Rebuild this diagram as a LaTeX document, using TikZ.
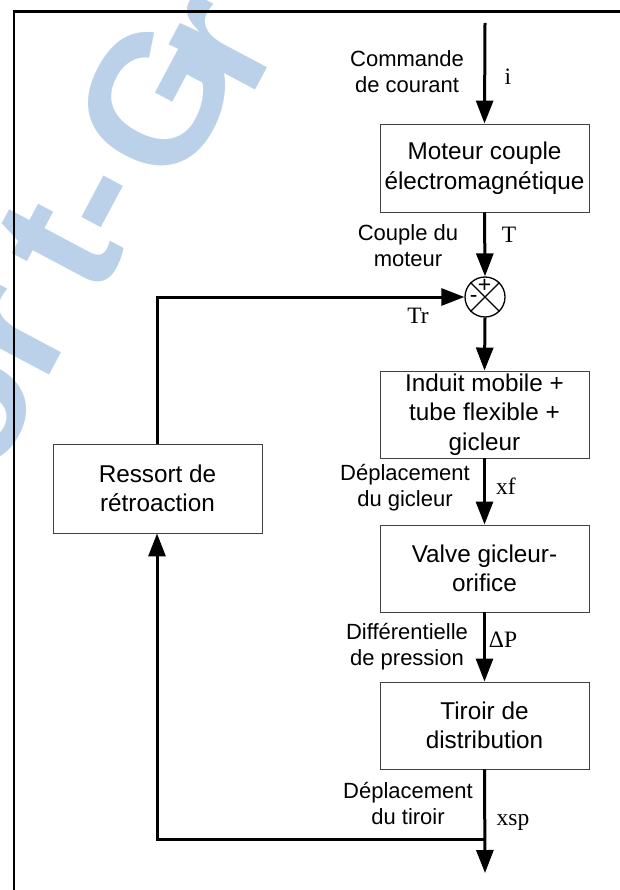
\documentclass[tikz,border=0pt]{standalone}
\usepackage{fontspec}
\setmainfont{Liberation Sans}
\newfontfamily\tms{Liberation Serif}
\usetikzlibrary{arrows.meta}
\definecolor{wm}{RGB}{187,209,233}
\begin{document}
\begin{tikzpicture}[x=1pt,y=-1pt,
  blk/.style={draw=black!75, line width=0.9pt, minimum width=209pt, minimum height=88pt,
    align=center, inner sep=0pt, font=\fontsize{24.3}{29.5}\selectfont},
  lbl/.style={align=center, inner sep=0pt, font=\fontsize{22}{26}\selectfont},
  sig/.style={inner sep=0pt, font=\tms\fontsize{23.5}{26}\selectfont},
  sgn/.style={inner sep=0pt, font=\fontsize{23}{23}\selectfont},
  wml/.style={anchor=base, inner sep=0pt, rotate=62, text=wm,
    font=\bfseries\fontsize{185}{185}\selectfont},
  flow/.style={line width=3pt, -{Triangle[length=23pt,width=17pt]}},
  frame/.style={line width=2.8pt}]
\useasboundingbox (0,0) rectangle (619,890);
% watermark
\begin{scope}
  \clip (0,0) rectangle (619,890);
  \node[wml] (w1) at (18,435) {o};
  \node[wml] (w2) at (60,355) {r};
  \node[wml] (w3) at (112,274) {t};
  \node[wml] (w4) at (145,224) {-};
  \node[wml] (w5) at (212,129) {G};
  \node[wml] (w6) at (266,70) {r};
  \node[wml] (w7) at (330,-42) {a};
\end{scope}
% frame
\draw[frame] (14,895) -- (14,11.5) -- (625,11.5);
% blocks
\node[blk] (b1) at (484.5,168) {Moteur couple\\électromagnétique};
\node[blk, minimum height=87pt] (b2) at (484.5,414.5) {Induit mobile +\\tube flexible +\\gicleur};
\node[blk, minimum height=87pt] (b3) at (484.5,568.5) {Valve gicleur-\\orifice};
\node[blk, minimum height=87pt] (b4) at (484.5,725.5) {Tiroir de\\distribution};
\node[blk, minimum height=89pt] (b5) at (157.5,488.5) {Ressort de\\rétroaction};
% summing junction
\node[draw, circle, line width=1.3pt, minimum size=40pt, inner sep=0pt] (s) at (485,297) {};
\draw[line width=1.3pt] (s.north west) -- (s.south east) (s.north east) -- (s.south west);
\node[sgn] (plus) at (484.5,285.5) {+};
\node[sgn] (minus) at (473.7,298.5) {-};
% coordinates
\coordinate (in) at (485,23);
\coordinate (out) at (485,873);
\coordinate (br) at (485,839);
\coordinate (bl) at (157,839);
\coordinate (tl) at (157,297);
% connectors
\draw[flow] (in) -- (b1.north);
\draw[flow] (b1.south) -- (s.north);
\draw[flow] (s.south) -- (b2.north);
\draw[flow] (b2.south) -- (b3.north);
\draw[flow] (b3.south) -- (b4.north);
\draw[flow] (b4.south) -- (out);
\draw[flow] (br) -- (bl) -- (b5.south -| bl);
\draw[flow] (b5.north -| tl) -- (tl) -- (s.west);
% labels
\node[lbl] (l1) at (407,72) {Commande\\de courant};
\node[lbl] (l2) at (408,246) {Couple du\\moteur};
\node[lbl] (l3) at (405,488) {Déplacement\\du gicleur};
\node[lbl] (l4) at (407,647) {Différentielle\\de pression};
\node[lbl] (l5) at (408,803) {Déplacement\\du tiroir};
% signals
\node[sig] (si) at (508,77) {i};
\node[sig] (sT) at (509,235) {T};
\node[sig] (sTr) at (418,316) {Tr};
\node[sig] (sxf) at (506,486) {xf};
\node[sig] (sdp) at (503,640) {ΔP};
\node[sig] (sxsp) at (513,822) {xsp};
\end{tikzpicture}
\end{document}
